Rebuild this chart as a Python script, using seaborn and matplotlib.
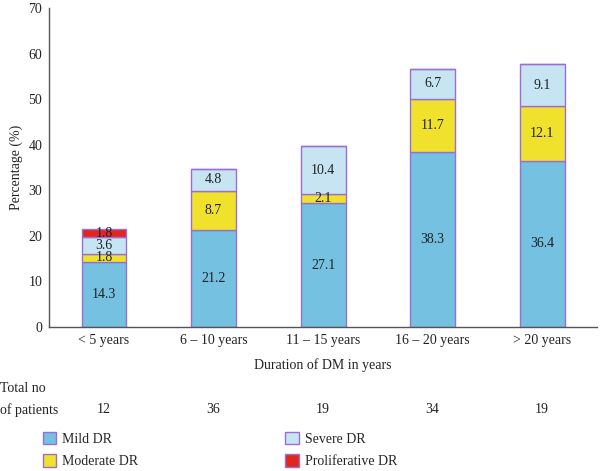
import matplotlib
matplotlib.use("Agg")
import matplotlib.pyplot as plt
import matplotlib.patches as mpatches
import seaborn as sns
import numpy as np

categories = ["< 5 years", "6 – 10 years", "11 – 15 years", "16 – 20 years", "> 20 years"]
mild = [14.3, 21.2, 27.1, 38.3, 36.4]
moderate = [1.8, 8.7, 2.1, 11.7, 12.1]
severe = [3.6, 4.8, 10.4, 6.7, 9.1]
proliferative = [1.8, 0, 0, 0, 0]
patients = [12, 36, 19, 34, 19]

series_names = ["Mild DR", "Moderate DR", "Severe DR", "Proliferative DR"]
series_colors = ["#74c1e2", "#f0e12c", "#c6e4f1", "#e0261f"]
edge = "#9b6fd0"

sns.set_style("white")
plt.rcParams["font.family"] = ["Liberation Serif", "DejaVu Serif"]

fig = plt.figure(figsize=(6.0, 4.71), dpi=100)
ax = fig.add_axes([0.082, 0.306, 0.913, 0.677])

layers = [mild, moderate, severe, proliferative]
bottom = np.zeros(len(categories))
for vals, name, col in zip(layers, series_names, series_colors):
    vals = np.array(vals, dtype=float)
    sns.barplot(x=categories, y=vals, bottom=bottom, color=col, edgecolor=edge,
                linewidth=1.0, width=0.41, saturation=1, ax=ax)
    # value labels in the middle of each segment
    for i, v in enumerate(vals):
        if v > 0:
            ax.text(i, bottom[i] + v / 2, f"{v:.1f}", ha="center", va="center",
                    fontsize=10, color="#222222")
    bottom += vals

ax.set_ylim(0, 70)
ax.set_xlim(-0.5, 4.5)
ax.set_yticks(range(0, 71, 10))
ax.set_ylabel("Percentage (%)", fontsize=10, color="#222222")
ax.set_xlabel("Duration of DM in years", fontsize=10, color="#222222", labelpad=8)
ax.tick_params(axis="both", length=0, labelsize=10, colors="#222222", pad=5)
sns.despine(ax=ax)
for s in ["left", "bottom"]:
    ax.spines[s].set_color("#555555")
    ax.spines[s].set_linewidth(1.0)

# patient counts under each category
for i, n in enumerate(patients):
    ax.text(i, -0.26, str(n), transform=ax.get_xaxis_transform(), ha="center",
            va="center", fontsize=10, color="#222222")
fig.text(0.0, 1 - 388 / 471, "Total no", ha="left", va="center", fontsize=10, color="#222222")
fig.text(0.0, 1 - 410 / 471, "of patients", ha="left", va="center", fontsize=10, color="#222222")

handles = [mpatches.Patch(facecolor=c, edgecolor=edge, label=n)
           for c, n in zip(series_colors, series_names)]
fig.legend(handles=handles, ncol=2, loc="center left", bbox_to_anchor=(0.05, 1 - 450 / 471),
           frameon=False, fontsize=10, handlelength=1.0, handleheight=1.0,
           columnspacing=10.6, labelspacing=0.6, handletextpad=0.4)

fig.savefig("out.png", dpi=100)
